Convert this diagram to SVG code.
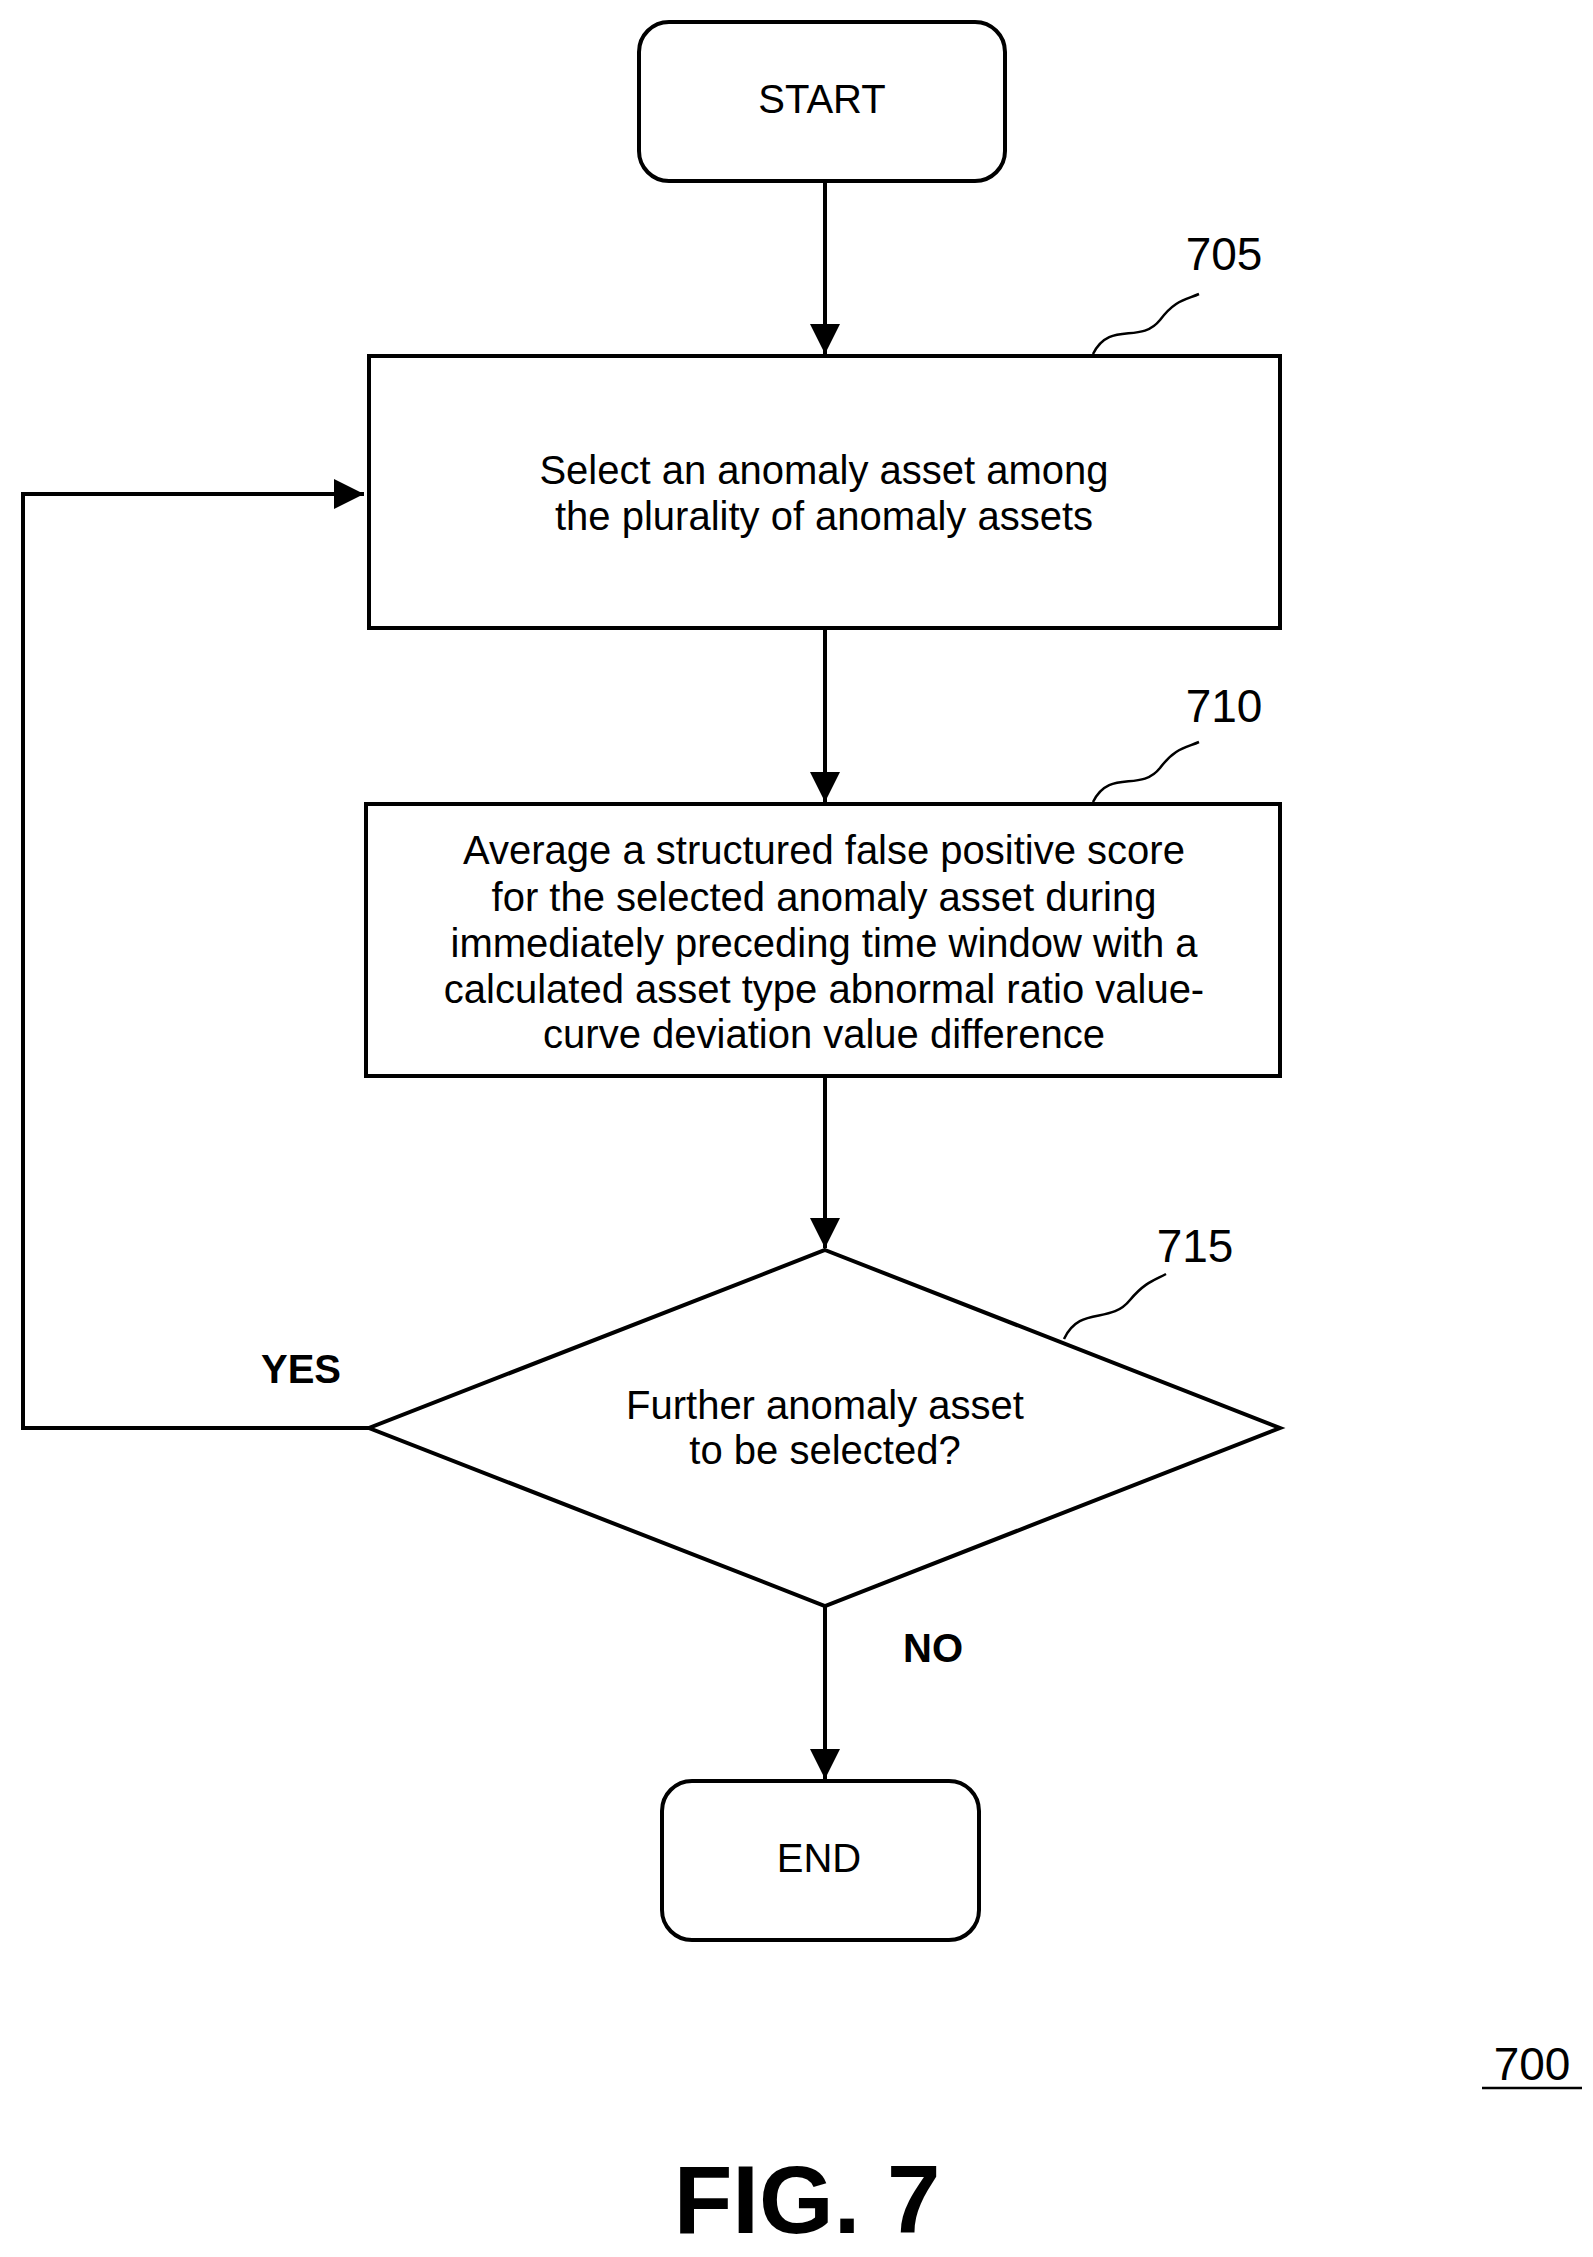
<svg xmlns="http://www.w3.org/2000/svg" width="1593" height="2257" viewBox="0 0 1593 2257">
<style>
.s{fill:#fff;stroke:#000;stroke-width:4}
.t{font-family:"Liberation Sans",Arial,sans-serif;font-size:40px;text-anchor:middle;fill:#000}
.l{font-size:46px}
.c{fill:none;stroke:#000;stroke-width:4}
.q{fill:none;stroke:#000;stroke-width:2.5}
</style>
<defs>
<marker id="ah" viewBox="0 0 10 10" refX="10" refY="5" markerWidth="30" markerHeight="30" orient="auto" markerUnits="userSpaceOnUse"><path d="M0,0L10,5L0,10z"/></marker></defs>
<rect width="1593" height="2257" fill="#fff"/>
<g id="connectors">
<line class="c" x1="825" y1="181" x2="825" y2="354" marker-end="url(#ah)"/>
<line class="c" x1="825" y1="628" x2="825" y2="802" marker-end="url(#ah)"/>
<line class="c" x1="825" y1="1076" x2="825" y2="1248" marker-end="url(#ah)"/>
<line class="c" x1="825" y1="1606" x2="825" y2="1779" marker-end="url(#ah)"/>
<polyline class="c" points="369,1428 23,1428 23,494 364,494" marker-end="url(#ah)"/>
<text class="t" x="301" y="1383" font-weight="bold">YES</text>
<text class="t" x="933" y="1662" font-weight="bold">NO</text>
</g>
<g id="start"><rect class="s" x="639" y="22" width="366" height="159" rx="30"/><text class="t" x="822" y="113">START</text></g>
<g id="n705"><rect class="s" x="369" y="356" width="911" height="272"/>
<text class="t" x="824" y="484">Select an anomaly asset among</text><text class="t" x="824" y="530">the plurality of anomaly assets</text>
<path class="q" d="M1093,354 C1110,320 1140,345 1160,320 C1175,300 1185,300 1199,294"/>
<text class="t l" x="1224" y="270">705</text></g>
<g id="n710"><rect class="s" x="366" y="804" width="914" height="272"/>
<text class="t" x="824" y="864">Average a structured false positive score</text>
<text class="t" x="824" y="911">for the selected anomaly asset during</text>
<text class="t" x="824" y="957">immediately preceding time window with a</text>
<text class="t" x="824" y="1003">calculated asset type abnormal ratio value-</text>
<text class="t" x="824" y="1048">curve deviation value difference</text>
<path class="q" d="M1093,802 C1110,768 1140,793 1160,768 C1175,748 1185,748 1199,742"/>
<text class="t l" x="1224" y="722">710</text></g>
<g id="n715"><polygon class="s" points="825,1250 1280,1428 825,1606 369,1428"/>
<text class="t" x="825" y="1419">Further anomaly asset</text><text class="t" x="825" y="1464">to be selected?</text>
<path class="q" d="M1064,1339 C1080,1305 1110,1325 1130,1300 C1145,1282 1155,1280 1166,1274"/>
<text class="t l" x="1195" y="1262">715</text></g>
<g id="end"><rect class="s" x="662" y="1781" width="317" height="159" rx="30"/><text class="t" x="819" y="1872">END</text></g>
<text class="t l" x="1532" y="2080">700</text>
<line x1="1482" y1="2088" x2="1582" y2="2088" stroke="#000" stroke-width="2.5"/>
<text class="t" x="807" y="2233" font-weight="bold" style="font-size:96px">FIG. 7</text>
</svg>
